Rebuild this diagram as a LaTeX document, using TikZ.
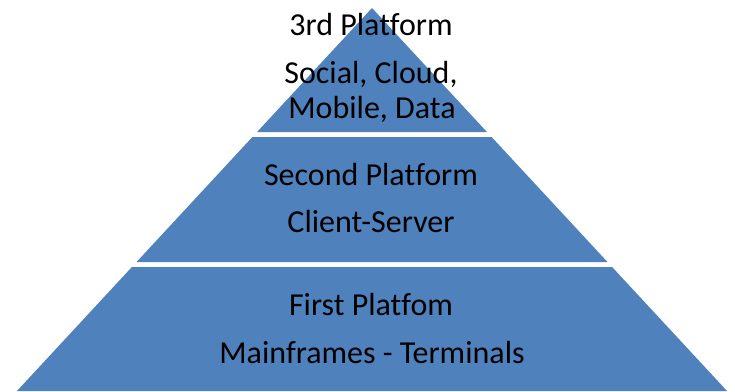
\documentclass[tikz,border=0pt]{standalone}
\usepackage{fontspec}
\setmainfont{Carlito}[Ligatures=NoCommon]
\definecolor{tierblue}{HTML}{4F81BD}
\begin{document}
\begin{tikzpicture}[x=1pt,y=-1pt,
  tier/.style={fill=tierblue,draw=none},
  label/.style={anchor=base,inner sep=0pt,font=\fontsize{32}{36}\selectfont,text=black}]
\useasboundingbox (0,0) rectangle (735,391);
\fill[white] (0,0) rectangle (735,391);
% pyramid sides: x = 372 +/- 0.927 (y - 8)
\def\cx{372}
\def\k{0.927}
% top tier
\path[tier] (\cx,8) -- ({\cx+\k*124},132) -- ({\cx-\k*124},132) -- cycle;
% middle tier
\path[tier] ({\cx-\k*129},137) -- ({\cx+\k*129},137) -- ({\cx+\k*254},262) -- ({\cx-\k*254},262) -- cycle;
% bottom tier
\path[tier] ({\cx-\k*259},267) -- ({\cx+\k*259},267) -- ({\cx+\k*383},391) -- ({\cx-\k*383},391) -- cycle;
% labels
\node[label] (t3) at (371,35) {3rd Platform};
\node[label] (d3a) at (371,83) {Social, Cloud,};
\node[label] (d3b) at (372,118) {Mobile, Data};
\node[label] (t2) at (371,185) {Second Platform};
\node[label] (d2) at (371,232) {Client-Server};
\node[label] (t1) at (371,315) {First Platfom};
\node[label] (d1) at (372,363) {Mainframes - Terminals};
\end{tikzpicture}
\end{document}
